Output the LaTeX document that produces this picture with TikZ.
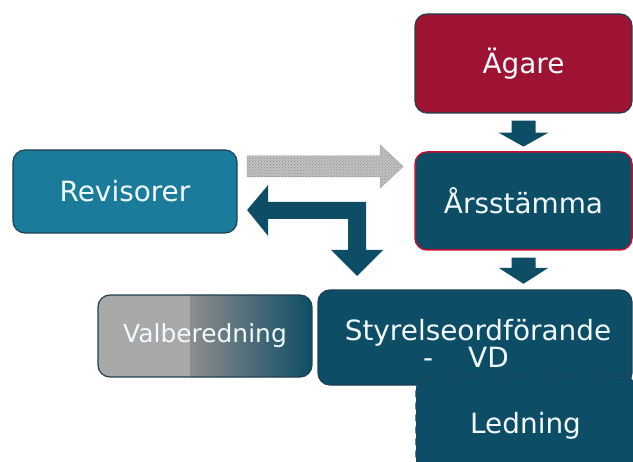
\documentclass[tikz,border=0pt]{standalone}
\usepackage{fontspec}
\setmainfont{DejaVu Sans}
\usetikzlibrary{calc,patterns}
\definecolor{redbox}{HTML}{9E1232}
\definecolor{tealdark}{HTML}{0E4D66}
\definecolor{tealmid}{HTML}{1A7C9A}
\definecolor{edgedark}{HTML}{1F3F52}
\definecolor{redline}{HTML}{C8102E}
\definecolor{greyarrow}{HTML}{C2C2C2}
\definecolor{greyspeck}{HTML}{858585}
\definecolor{valgrey}{HTML}{A8A8A8}
\definecolor{valmid}{HTML}{8C8C8C}
\definecolor{textwhite}{HTML}{F2FAFF}
\begin{document}
\begin{tikzpicture}[x=1bp,y=-1bp,
  box/.style={rounded corners=12bp, draw=edgedark, line width=1.2bp, text=textwhite,
              font=\fontsize{28}{28}\selectfont, inner sep=0pt},
  boxtext/.style={text=textwhite, font=\fontsize{28}{28}\selectfont, inner sep=0pt},
  blockarrow/.style={fill=tealdark},
  greyblock/.style={fill=greyarrow, draw=gray!70, line width=0.5bp},
  dashedge/.style={dash pattern=on 7bp off 5bp}]
\useasboundingbox (0,0) rectangle (633,462);
\clip (0,0) rectangle (633,462);

% boxes
\node[box, fill=redbox, minimum width=217bp, minimum height=99bp] (agare) at (523.5,63.5) {Ägare};
\node[box, fill=tealdark, draw=redline, line width=1.5bp, minimum width=217bp, minimum height=98bp] (arsst) at (523.5,201) {Årsstämma};
\node[box, fill=tealmid, minimum width=224bp, minimum height=83bp] (rev) at (125,191.5) {Revisorer};
\node[box, fill=tealdark, minimum width=314bp, minimum height=95bp] (styr) at (475,337.5) {};
\node[boxtext, align=center] (styrtxt) at (478,343.4) {Styrelseordförande\\-\hspace{35bp}VD\hspace*{24bp}};

% Valberedning with grey-to-teal fill
\begin{scope}
  \clip[rounded corners=12bp] (98,295) rectangle (312,377);
  \fill[valgrey] (98,295) rectangle (190,377);
  \shade[left color=valmid, right color=tealdark] (190,295) rectangle (312,377);
\end{scope}
\node[box, minimum width=214bp, minimum height=82bp, font=\fontsize{25}{25}\selectfont] (val) at (205,336) {Valberedning};

% Ledning (dashed, overlapping)
\node[box, fill=tealdark, dashedge, minimum width=219bp, minimum height=99.4bp] (led) at (525.5,425.7) {Ledning};

% down arrows
\fill[blockarrow] ($(agare.south)+(-12,7)$) -- ++(24,0) -- ++(0,12) -- ++(13,0)
  -- ($(agare.south)+(0,33)$) -- ++(-25,-14) -- ++(13,0) -- cycle;
\fill[blockarrow] ($(arsst.south)+(-12,7)$) -- ++(24,0) -- ++(0,10) -- ++(13,0)
  -- ($(arsst.south)+(0,33)$) -- ++(-25,-16) -- ++(13,0) -- cycle;

% arrows from Revisorer
\begin{scope}[shift={(rev.east)}]
  \fill[greyblock] (9.5,-35.5) -- (142.5,-35.5) -- (142.5,-46.5) -- (165.5,-25)
    -- (142.5,-3.5) -- (142.5,-14.5) -- (9.5,-14.5) -- cycle;
  \fill[pattern=crosshatch dots, pattern color=greyspeck] (9.5,-35.5) -- (142.5,-35.5) -- (142.5,-46.5) -- (165.5,-25)
    -- (142.5,-3.5) -- (142.5,-14.5) -- (9.5,-14.5) -- cycle;
  \fill[blockarrow] (9.5,18.5) -- (30.5,-6.5) -- (30.5,10.5) -- (128.5,10.5) -- (128.5,58.5)
    -- (145.5,58.5) -- (119.5,84.5) -- (93.5,58.5) -- (110.5,58.5) -- (110.5,27.5)
    -- (30.5,27.5) -- (30.5,44.5) -- cycle;
\end{scope}
\end{tikzpicture}
\end{document}
